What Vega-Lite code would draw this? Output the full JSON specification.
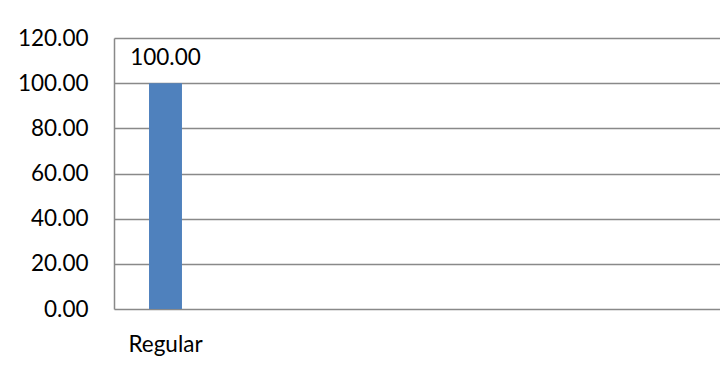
{
  "$schema": "https://vega.github.io/schema/vega-lite/v6.json",
  "autosize": {"type": "none"},
  "width": 606,
  "height": 271,
  "padding": {"left": 114, "top": 38, "right": 0, "bottom": 71},
  "background": "white",
  "config": {
    "view": {"stroke": null},
    "font": "Lato",
    "axis": {"labelFont": "Lato", "labelFontSize": 22.5, "labelColor": "#000000"}
  },
  "data": {"values": [{"category": "Regular", "value": 100}]},
  "encoding": {
    "x": {
      "field": "category",
      "type": "nominal",
      "sort": null,
      "scale": {"paddingInner": 0.5905, "paddingOuter": 1, "align": 0},
      "axis": {"title": null, "labelAngle": 0, "ticks": false, "domain": false, "labelPadding": 24, "grid": false}
    },
    "y": {
      "field": "value",
      "type": "quantitative",
      "scale": {"domain": [0, 120], "nice": false},
      "axis": {
        "title": null,
        "values": [0, 20, 40, 60, 80, 100, 120],
        "format": ".2f",
        "ticks": false,
        "labelPadding": 26,
        "domainColor": "#898989",
        "domainWidth": 1.5,
        "gridColor": "#898989",
        "gridWidth": 1.5,
        "gridOpacity": 1
      }
    }
  },
  "layer": [
    {"mark": {"type": "bar", "color": "#4F81BD", "width": {"band": 0.32}}},
    {
      "mark": {"type": "text", "font": "Lato", "fontSize": 22.5, "color": "#000000", "baseline": "alphabetic", "dy": -18},
      "encoding": {"text": {"field": "value", "type": "quantitative", "format": ".2f"}}
    }
  ]
}
